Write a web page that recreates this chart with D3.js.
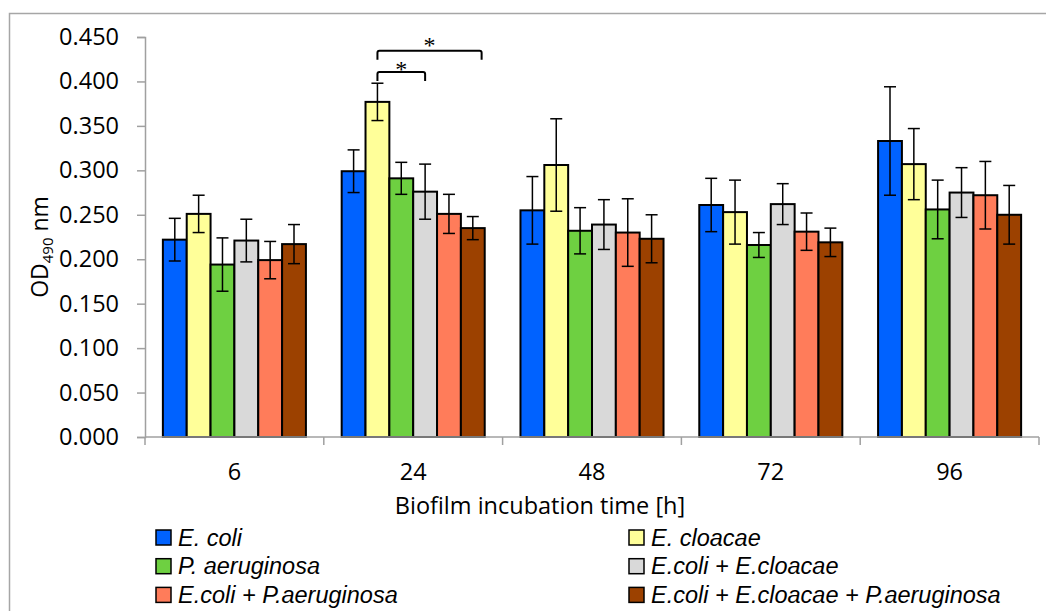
<!DOCTYPE html>
<html>
<head>
<meta charset="utf-8">
<script src="https://cdn.jsdelivr.net/npm/d3@7"></script>
<style>
  html, body { margin: 0; padding: 0; background: #fff; }
  svg { display: block; font-family: "Open Sans", "Noto Sans", sans-serif; }
  text { fill: #000; }
</style>
</head>
<body>
<svg id="chart" width="1046" height="611"></svg>
<script>
// Incubation times (h)
const categories = ["6", "24", "48", "72", "96"];

// Culture names shown in the legend
const seriesNames = [
  "E. coli",
  "E. cloacae",
  "P. aeruginosa",
  "E.coli + E.cloacae",
  "E.coli + P.aeruginosa",
  "E.coli + E.cloacae + P.aeruginosa"
];

// Mean OD490 per culture, one value per incubation time
const eColi        = [0.222, 0.299, 0.255, 0.261, 0.333];
const eCloacae     = [0.251, 0.377, 0.306, 0.253, 0.307];
const pAeruginosa  = [0.194, 0.291, 0.232, 0.216, 0.256];
const eColiEclo    = [0.221, 0.276, 0.239, 0.262, 0.275];
const eColiPaer    = [0.199, 0.251, 0.230, 0.231, 0.272];
const eColiEcloPa  = [0.217, 0.235, 0.223, 0.219, 0.250];

// Standard deviations
const eColiSd       = [0.024, 0.024, 0.038, 0.030, 0.061];
const eCloacaeSd    = [0.021, 0.021, 0.052, 0.036, 0.040];
const pAeruginosaSd = [0.030, 0.018, 0.026, 0.014, 0.033];
const eColiEcloSd   = [0.024, 0.031, 0.028, 0.023, 0.028];
const eColiPaerSd   = [0.021, 0.022, 0.038, 0.021, 0.038];
const eColiEcloPaSd = [0.022, 0.013, 0.027, 0.016, 0.033];

// Y axis tick values
const yTicks = [0, 0.05, 0.10, 0.15, 0.20, 0.25, 0.30, 0.35, 0.40, 0.45];

// Significance brackets (bar indices within a time group, bracket height, star height)
const brackets = [
  { category: "24", from: 1, to: 3,    level: 0.4106, star: 0.4185 },
  { category: "24", from: 1, to: 5.37, level: 0.4346, star: 0.4455 }
];

const colors = ["#0062ff", "#ffff99", "#6ed041", "#d9d9d9", "#ff7c5a", "#9c4100"];

const means = [eColi, eCloacae, pAeruginosa, eColiEclo, eColiPaer, eColiEcloPa];
const sds = [eColiSd, eCloacaeSd, pAeruginosaSd, eColiEcloSd, eColiPaerSd, eColiEcloPaSd];

const svg = d3.select("#chart");

// outer chart frame
svg.append("rect")
  .attr("x", 9.5).attr("y", 13.5)
  .attr("width", 1100).attr("height", 700)
  .attr("fill", "none").attr("stroke", "#a6a6a6").attr("stroke-width", 1.5);

const plot = { left: 145, right: 1039, top: 37, bottom: 437 };

const y = d3.scaleLinear().domain([0, 0.45]).range([plot.bottom, plot.top]);
const x0 = d3.scaleBand().domain(categories).range([plot.left, plot.right]);
const bw = x0.bandwidth();
const x1 = d3.scaleBand().domain(d3.range(seriesNames.length))
  .range([bw * 0.1, bw * 0.9]);
const barW = x1.bandwidth();
const barPos = i => bw * 0.1 + (i + 0.5) * barW; // centre of (possibly fractional) bar index

// Y axis
const yAxis = svg.append("g")
  .attr("transform", `translate(${plot.left},0)`)
  .call(d3.axisLeft(y).tickValues(yTicks).tickFormat(d3.format(".3f")).tickSize(8).tickPadding(18));
yAxis.attr("font-family", null).attr("font-size", null);
yAxis.select(".domain").attr("stroke", "#a0a0a0").attr("stroke-width", 1.5);
yAxis.selectAll(".tick line").attr("stroke", "#a0a0a0").attr("stroke-width", 1.5);
yAxis.selectAll(".tick text")
  .style("font-size", "23.5px").style("font-family", "'Open Sans'").attr("fill", "#000");

// Bars
const groups = svg.append("g").selectAll("g")
  .data(categories)
  .join("g")
  .attr("transform", d => `translate(${x0(d)},0)`);

groups.each(function (cat, ci) {
  const g = d3.select(this);
  const rows = seriesNames.map((name, si) => ({ si, v: means[si][ci], e: sds[si][ci] }));
  g.selectAll("rect")
    .data(rows)
    .join("rect")
    .attr("x", d => x1(d.si))
    .attr("y", d => y(d.v))
    .attr("width", barW)
    .attr("height", d => y(0) - y(d.v))
    .attr("fill", d => colors[d.si])
    .attr("stroke", "#000")
    .attr("stroke-width", 2);

  // error bars
  const eb = g.selectAll("g.err").data(rows).join("g").attr("class", "err")
    .attr("stroke", "#000").attr("stroke-width", 1.5);
  eb.append("line")
    .attr("x1", d => barPos(d.si)).attr("x2", d => barPos(d.si))
    .attr("y1", d => y(d.v + d.e)).attr("y2", d => y(d.v - d.e));
  eb.append("line")
    .attr("x1", d => barPos(d.si) - 6).attr("x2", d => barPos(d.si) + 6)
    .attr("y1", d => y(d.v + d.e)).attr("y2", d => y(d.v + d.e));
  eb.append("line")
    .attr("x1", d => barPos(d.si) - 6).attr("x2", d => barPos(d.si) + 6)
    .attr("y1", d => y(d.v - d.e)).attr("y2", d => y(d.v - d.e));
});

// X axis
const xAxis = svg.append("g")
  .attr("transform", `translate(0,${plot.bottom})`);
xAxis.append("line")
  .attr("x1", plot.left).attr("x2", plot.right)
  .attr("stroke", "#a0a0a0").attr("stroke-width", 1.5);
const bounds = categories.map(c => x0(c)).concat([plot.right]);
xAxis.selectAll("line.tick").data(bounds).join("line").attr("class", "tick")
  .attr("x1", d => d).attr("x2", d => d).attr("y1", 0).attr("y2", 8)
  .attr("stroke", "#a0a0a0").attr("stroke-width", 1.5);
xAxis.selectAll("text").data(categories).join("text")
  .attr("x", d => x0(d) + bw / 2).attr("y", 43)
  .attr("text-anchor", "middle").style("font-size", "23.5px")
  .text(d => d);

// Axis titles
svg.append("text")
  .attr("x", 540).attr("y", 514)
  .attr("text-anchor", "middle").style("font-size", "23.5px")
  .text("Biofilm incubation time [h]");

const yt = svg.append("text")
  .attr("transform", "translate(48,247) rotate(-90)")
  .attr("text-anchor", "middle").style("font-size", "23px");
yt.append("tspan").text("OD");
yt.append("tspan").style("font-size", "15px").attr("dy", 5).text("490");
yt.append("tspan").attr("dy", -5).text(" nm");

// Significance brackets
brackets.forEach(b => {
  const xa = x0(b.category) + barPos(b.from);
  const xb = x0(b.category) + barPos(b.to);
  const yTop = y(b.level);
  const leg = 9;
  svg.append("path")
    .attr("d", `M${xa},${yTop + leg} L${xa},${yTop + 2} Q${xa},${yTop} ${xa + 2},${yTop} L${xb - 2},${yTop} Q${xb},${yTop} ${xb},${yTop + 2} L${xb},${yTop + leg}`)
    .attr("fill", "none").attr("stroke", "#000").attr("stroke-width", 2);
  svg.append("text")
    .attr("x", (xa + xb) / 2).attr("y", y(b.star) + 12)
    .attr("text-anchor", "middle")
    .style("font-family", "'Liberation Serif', serif").style("font-size", "24px")
    .text("*");
});

// Legend
const legend = svg.append("g");
seriesNames.forEach((name, i) => {
  const col = i % 2, row = Math.floor(i / 2);
  const lx = col === 0 ? 156 : 629;
  const ly = 530 + row * 28.7;
  legend.append("rect")
    .attr("x", lx).attr("y", ly).attr("width", 15).attr("height", 15)
    .attr("fill", colors[i]).attr("stroke", "#000").attr("stroke-width", 1.5);
  legend.append("text")
    .attr("x", lx + 22).attr("y", ly + 15.5)
    .style("font-family", "'Liberation Sans', Arial, sans-serif")
    .style("font-size", "23.5px").style("font-style", "italic")
    .text(name);
});
</script>
</body>
</html>
